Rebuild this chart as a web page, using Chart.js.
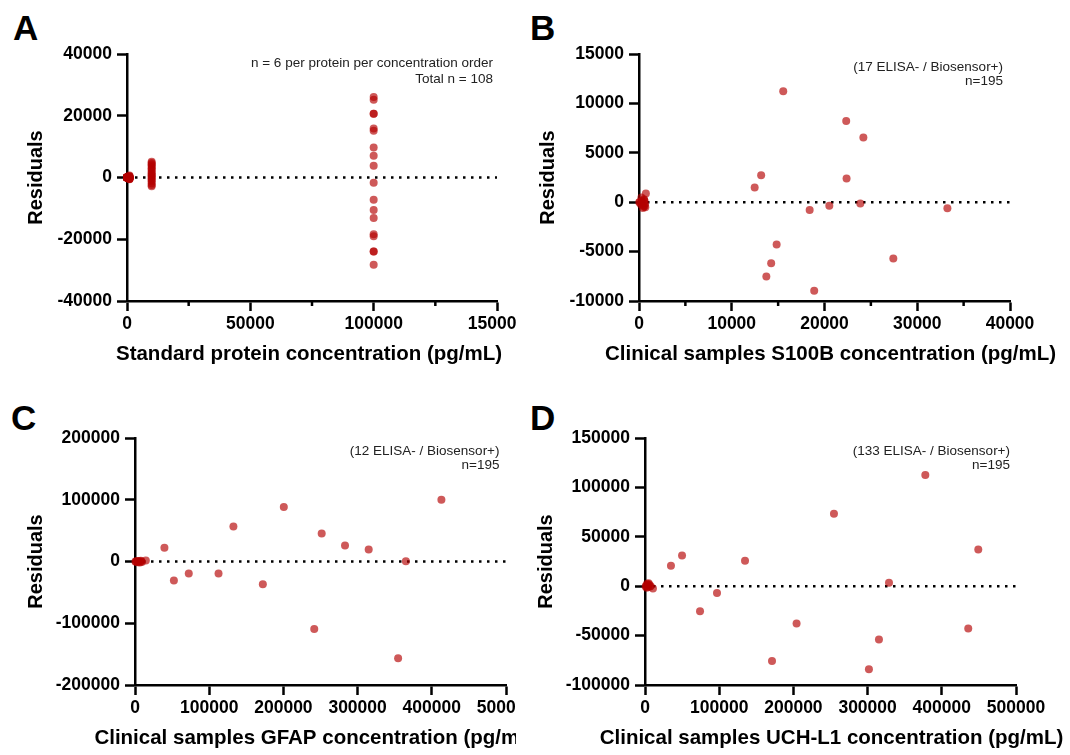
<!DOCTYPE html>
<html>
<head>
<meta charset="utf-8">
<title>Residuals</title>
<script src="https://cdn.jsdelivr.net/npm/chart.js@4.4.1/dist/chart.umd.min.js"></script>
<style>
  body { margin: 0; background: #fff; width: 1070px; height: 755px; overflow: hidden; position: relative;
         font-family: "Liberation Sans", Arial, sans-serif; }
  .panel { position: absolute; overflow: hidden; }
  .panel canvas { display: block; }
  .letter { position: absolute; font-weight: bold; font-size: 35px; line-height: 35px; color: #000; }
</style>
</head>
<body>
<div class="letter" style="left:13px;top:10px">A</div>
<div class="letter" style="left:530px;top:10px">B</div>
<div class="letter" style="left:11px;top:400px">C</div>
<div class="letter" style="left:530px;top:400px">D</div>

<div class="panel" style="left:0;top:0;width:516px;height:371px"><canvas id="chartA" width="560" height="371"></canvas></div>
<div class="panel" style="left:530px;top:0;width:540px;height:371px"><canvas id="chartB" width="540" height="371"></canvas></div>
<div class="panel" style="left:0;top:384px;width:516px;height:371px"><canvas id="chartC" width="560" height="371"></canvas></div>
<div class="panel" style="left:530px;top:384px;width:540px;height:371px"><canvas id="chartD" width="540" height="371"></canvas></div>

<script>
// ---- data ----
// A: standard proteins, 18 residuals (3 proteins x 6) per concentration order
const stdConcA = [1, 10, 100, 1000, 10000, 100000];
const residA = [
  [2, -1, 0, 3, -2, 1, 0, -3, 2, 1, -1, 0, 2, -2, 1, 0, -1, 1],
  [12, -8, 5, -15, 20, -4, 9, -11, 3, 14, -6, 7, -18, 10, -2, 6, -9, 1],
  [120, -80, 45, -150, 210, -35, 95, -110, 30, 140, -60, 70, -180, 100, -20, 60, -90, 15],
  [620, 410, 350, 220, 150, 90, 40, 10, -20, -60, -110, -150, -210, -260, -330, -390, -450, -540],
  [5100, 4700, 4300, 3900, 3400, 2900, 2500, 1900, 1400, 900, 600, 200, -300, -700, -1200, -1900, -2400, -2800],
  [26050, 25200, 20650, 20650, 15900, 15150, 9730, 7030, 3780, -1730, -7240, -10490, -13080, -18380, -19030, -24000, -24000, -28220]
];

// B: S100B
const concB = [15550, 22340, 24190, 13170, 12470, 22380, 18400, 20520, 23860, 33250, 14840, 14250, 13730, 18890, 27420,
  740, 520, 300, 610, 680, 180, 420, 90, 560, 650, 260, 450, 350, 30, 600, 500];
const residB = [11220, 8210, 6550, 2740, 1490, 2400, -780, -370, -140, -610, -4290, -6180, -7530, -8950, -5710,
  880, 310, 120, -380, -520, -210, -590, 20, 230, -160, 470, -300, -60, 0, 90, -450];

// C: GFAP
const concC = [412940, 200550, 132630, 251600, 283040, 314950, 39650, 365090, 52420, 72470, 112580, 172290, 241570, 354600, 14590,
  1200, 2500, 3800, 5200, 6500, 7800, 9300, 3100, 4600, 8400, 600];
const residC = [100000, 88110, 56760, 45410, 25950, 19460, 22160, 540, -30810, -19460, -19460, -36760, -109190, -156760, 1620,
  -400, 900, -1300, 300, -1800, 1100, -700, 200, -200, 600, 0];

// D: UCH-L1
const concD = [377800, 254660, 449160, 49910, 34980, 134800, 328830, 97020, 10730, 74160, 204290, 435630, 315300, 171180, 301770,
  1500, 2800, 4100, 5500, 6800, 3500, 2200, 7500, 900, 4800];
const residD = [112500, 73310, 37160, 31080, 20610, 25680, 3380, -6760, -2370, -25340, -37840, -42910, -54050, -75680, -84120,
  500, 2600, -800, 1800, -400, 1200, -1500, 300, -200, 3000];

// axes
const xTicksA = [0, 50000, 100000, 150000];
const xMinorA = [25000, 75000, 125000];
const yTicksA = [-40000, -20000, 0, 20000, 40000];
const xTicksB = [0, 10000, 20000, 30000, 40000];
const xMinorB = [5000, 15000, 25000, 35000];
const yTicksB = [-10000, -5000, 0, 5000, 10000, 15000];
const xTicksCD = [0, 100000, 200000, 300000, 400000, 500000];
const yTicksC = [-200000, -100000, 0, 100000, 200000];
const yTicksD = [-100000, -50000, 0, 50000, 100000, 150000];

const notesA = ['n = 6 per protein per concentration order', 'Total n = 108'];
const notesB = ['(17 ELISA- / Biosensor+)', 'n=195'];
const notesC = ['(12 ELISA- / Biosensor+)', 'n=195'];
const notesD = ['(133 ELISA- / Biosensor+)', 'n=195'];

// ---- drawing ----
const FONT = '"Liberation Sans", Arial, sans-serif';
const dotColor = 'rgba(180, 0, 0, 0.65)';

const minorTicks = {
  id: 'minorTicks',
  afterDraw(chart, args, opts) {
    if (!opts.values || !opts.values.length) return;
    const x = chart.scales.x, ctx = chart.ctx, b = chart.chartArea.bottom;
    ctx.save();
    ctx.strokeStyle = '#000';
    ctx.lineWidth = 2.5;
    opts.values.forEach(v => {
      const px = x.getPixelForValue(v);
      ctx.beginPath();
      ctx.moveTo(px, b);
      ctx.lineTo(px, b + opts.length);
      ctx.stroke();
    });
    ctx.restore();
  }
};

// top-right notes inside the plot
const notes = {
  id: 'notes',
  afterDraw(chart, args, opts) {
    if (!opts.lines) return;
    const ctx = chart.ctx, a = chart.chartArea;
    ctx.save();
    ctx.fillStyle = '#222';
    ctx.font = '13.5px ' + FONT;
    ctx.textAlign = 'right';
    ctx.textBaseline = 'middle';
    opts.lines.forEach((t, i) => ctx.fillText(t, a.right - opts.right, a.top + opts.top + i * opts.gap));
    ctx.restore();
  }
};

// x axis title without the width squeeze chart.js applies
const xTitle = {
  id: 'xTitle',
  afterDraw(chart, args, opts) {
    const ctx = chart.ctx, a = chart.chartArea;
    ctx.save();
    ctx.fillStyle = '#000';
    ctx.font = 'bold 20.5px ' + FONT;
    ctx.textAlign = 'center';
    ctx.textBaseline = 'middle';
    ctx.fillText(opts.text, (a.left + a.right) / 2 + (opts.shift || 0), opts.y);
    ctx.restore();
  }
};

function makePanel(id, o) {
  const pts = o.x.map((v, i) => ({ x: v, y: o.y[i] }));
  const xMax = o.xTicks[o.xTicks.length - 1];
  const yMin = o.yTicks[0], yMax = o.yTicks[o.yTicks.length - 1];
  return new Chart(document.getElementById(id), {
    type: 'scatter',
    data: {
      datasets: [
        {
          data: pts, backgroundColor: dotColor, borderWidth: 0,
          pointRadius: 4, pointHoverRadius: 4, clip: false, order: 1
        },
        {
          type: 'line', data: [{ x: 0, y: 0 }, { x: xMax, y: 0 }],
          borderColor: '#000', borderWidth: 2.5, borderDash: [2.5, 5.5],
          pointRadius: 0, order: 2
        }
      ]
    },
    options: {
      responsive: false,
      animation: false,
      events: [],
      layout: { padding: { left: o.padLeft, right: o.padRight, top: 54, bottom: 0 } },
      plugins: {
        legend: { display: false },
        tooltip: { enabled: false },
        minorTicks: { values: o.minor || [], length: 5 },
        notes: { lines: o.notes, right: o.noteRight, top: o.noteTop, gap: o.noteGap },
        xTitle: { text: o.xTitle, y: 354, shift: o.titleShift }
      },
      scales: {
        x: {
          type: 'linear', min: 0, max: xMax,
          afterBuildTicks: s => { s.ticks = o.xTicks.map(v => ({ value: v })); },
          afterFit: s => { s.height = 70; },
          border: { display: true, color: '#000', width: 2.5 },
          grid: { drawOnChartArea: false, drawTicks: true, tickLength: 10, tickWidth: 2.5, tickColor: '#000' },
          ticks: {
            autoSkip: false, maxRotation: 0, padding: 3, color: '#000',
            font: { family: FONT, size: 17.5, weight: 'bold' },
            callback: v => String(v)
          }
        },
        y: {
          type: 'linear', min: yMin, max: yMax,
          afterBuildTicks: s => { s.ticks = o.yTicks.map(v => ({ value: v })); },
          afterFit: s => { s.width = o.yWidth; },
          border: { display: true, color: '#000', width: 2.5 },
          grid: { drawOnChartArea: false, drawTicks: true, tickLength: 10, tickWidth: 2.5, tickColor: '#000' },
          ticks: {
            padding: 5, color: '#000',
            font: { family: FONT, size: 17.5, weight: 'bold' },
            callback: v => String(v)
          },
          title: {
            display: true, text: 'Residuals', color: '#000',
            font: { family: FONT, size: 20, weight: 'bold' },
            padding: { top: 0, bottom: 0 }
          }
        }
      }
    },
    plugins: [minorTicks, notes, xTitle]
  });
}

const ptsAx = [], ptsAy = [];
stdConcA.forEach((c, i) => residA[i].forEach(r => { ptsAx.push(c); ptsAy.push(r); }));

makePanel('chartA', {
  x: ptsAx, y: ptsAy, xTicks: xTicksA, minor: xMinorA, yTicks: yTicksA,
  xTitle: 'Standard protein concentration (pg/mL)', notes: notesA, titleShift: -3,
  padLeft: 24, yWidth: 103, padRight: 63, noteRight: 4, noteTop: 9.5, noteGap: 16
});
makePanel('chartB', {
  x: concB, y: residB, xTicks: xTicksB, minor: xMinorB, yTicks: yTicksB,
  xTitle: 'Clinical samples S100B concentration (pg/mL)', notes: notesB, titleShift: 6,
  padLeft: 6, yWidth: 103, padRight: 60, noteRight: 7, noteTop: 13.5, noteGap: 14
});
makePanel('chartC', {
  x: concC, y: residC, xTicks: xTicksCD, yTicks: yTicksC,
  xTitle: 'Clinical samples GFAP concentration (pg/mL)', notes: notesC, titleShift: -4,
  padLeft: 24, yWidth: 111, padRight: 54, noteRight: 6.5, noteTop: 13.5, noteGap: 14
});
makePanel('chartD', {
  x: concD, y: residD, xTicks: xTicksCD, yTicks: yTicksD,
  xTitle: 'Clinical samples UCH-L1 concentration (pg/mL)', notes: notesD, titleShift: 1,
  padLeft: 4, yWidth: 111, padRight: 54, noteRight: 6, noteTop: 13.5, noteGap: 14
});
</script>
</body>
</html>
